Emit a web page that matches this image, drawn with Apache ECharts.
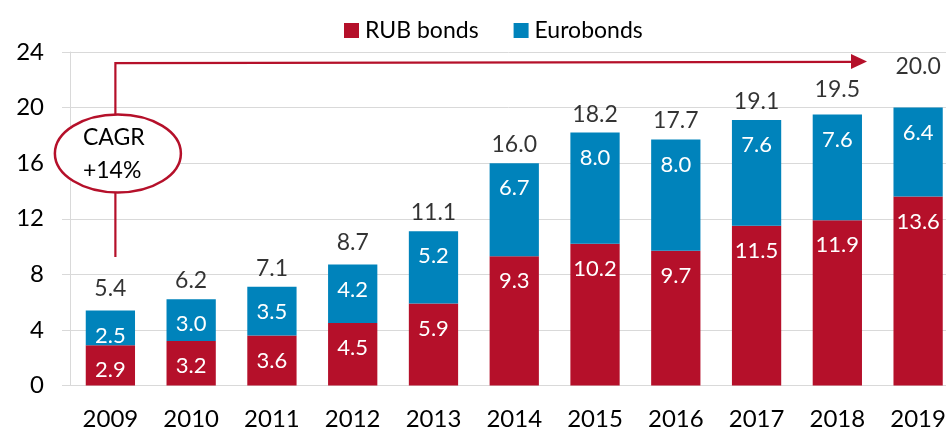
<!DOCTYPE html>
<html>
<head>
<meta charset="utf-8">
<script src="https://cdn.jsdelivr.net/npm/echarts@6/dist/echarts.min.js"></script>
<style>
  html, body { margin: 0; padding: 0; background: #fff; }
  #chart { width: 946px; height: 428px; }
</style>
</head>
<body>
<div id="chart"></div>
<script>
// Bond market volume by year, USD-equivalent (stacked: RUB bonds + Eurobonds)
const years = ['2009', '2010', '2011', '2012', '2013', '2014', '2015', '2016', '2017', '2018', '2019'];
const rubBonds = [2.9, 3.2, 3.6, 4.5, 5.9, 9.3, 10.2, 9.7, 11.5, 11.9, 13.6];
const euroBonds = [2.5, 3.0, 3.5, 4.2, 5.2, 6.7, 8.0, 8.0, 7.6, 7.6, 6.4];
const totals = [5.4, 6.2, 7.1, 8.7, 11.1, 16.0, 18.2, 17.7, 19.1, 19.5, 20.0];
const yTicks = [0, 4, 8, 12, 16, 20, 24];

// extra lift (px) for a few total labels
const totalLabelLift = { '2009': 3, '2012': 4, '2018': 6, '2019': 23 };

const RED = '#B5102A';
const BLUE = '#0083BB';
const FONT = 'Lato, "Open Sans", sans-serif';

const chart = echarts.init(document.getElementById('chart'), null, { renderer: 'canvas' });

const insideLabel = {
  show: true,
  position: 'insideTop',
  distance: 14,
  color: '#fff',
  fontFamily: FONT,
  fontSize: 22,
  formatter: p => p.value.toFixed(1)
};

chart.setOption({
  animation: false,
  backgroundColor: '#fff',
  textStyle: { fontFamily: FONT },
  legend: {
    left: 339,
    top: 14,
    itemWidth: 15,
    itemHeight: 15,
    itemGap: 35,
    icon: 'rect',
    textStyle: { fontFamily: FONT, fontSize: 23, color: '#000', padding: [0, 0, 0, 1] },
    data: ['RUB bonds', 'Eurobonds']
  },
  grid: {
    left: 70, right: -12.5, top: 52, bottom: 42.5,
    containLabel: false,
    outerBoundsMode: 'none'
  },
  xAxis: {
    type: 'category',
    data: years,
    axisLine: { lineStyle: { color: '#d9d9d9', width: 1 } },
    axisTick: { show: false },
    axisLabel: { color: '#000', fontFamily: FONT, fontSize: 24, margin: 22 }
  },
  yAxis: {
    type: 'value',
    min: yTicks[0],
    max: yTicks[yTicks.length - 1],
    interval: yTicks[1] - yTicks[0],
    axisLine: { show: true, lineStyle: { color: '#d9d9d9', width: 1 } },
    axisTick: { show: true, length: 8, lineStyle: { color: '#d9d9d9' } },
    splitLine: { lineStyle: { color: '#d9d9d9', width: 1 } },
    axisLabel: { color: '#000', fontFamily: FONT, fontSize: 24, margin: 26 }
  },
  series: [
    {
      name: 'RUB bonds',
      type: 'bar',
      stack: 'total',
      data: rubBonds,
      barCategoryGap: '39%',
      itemStyle: { color: RED },
      label: insideLabel
    },
    {
      name: 'Eurobonds',
      type: 'bar',
      stack: 'total',
      data: euroBonds,
      barCategoryGap: '39%',
      itemStyle: { color: BLUE },
      label: insideLabel
    },
    {
      name: 'Total',
      type: 'scatter',
      symbolSize: 0,
      silent: true,
      data: totals.map((v, i) => ({
        value: v,
        label: { distance: 7 + (totalLabelLift[years[i]] || 0) }
      })),
      label: {
        show: true,
        position: 'top',
        color: '#000',
        fontFamily: FONT,
        fontSize: 23,
        formatter: p => p.value.toFixed(1)
      }
    }
  ]
});

// CAGR annotation: arrow from 2009 running across the top, with a ringed note
const px = (cat, val) => chart.convertToPixel({ xAxisIndex: 0, yAxisIndex: 0 }, [cat, val]);
const start = px('2009', 9.25);
const corner = px('2009', 23.2);
const x0 = start[0] + 5;
const tipX = 867;
const tipY = corner[1] - 1.6;
const ellipseC = [x0 + 2.5, px('2009', 16.7)[1]];

chart.setOption({
  graphic: [
    {
      type: 'polyline',
      shape: { points: [[x0, start[1]], [x0, corner[1]], [tipX - 14, tipY + 0.3]] },
      style: { stroke: RED, lineWidth: 2.2, fill: null },
      z: 10
    },
    {
      type: 'polygon',
      shape: { points: [[tipX - 16, tipY - 7.5], [tipX, tipY], [tipX - 16, tipY + 7.5]] },
      style: { fill: RED },
      z: 10
    },
    {
      type: 'ellipse',
      shape: { cx: ellipseC[0], cy: ellipseC[1], rx: 63, ry: 39 },
      style: { fill: '#fff', stroke: RED, lineWidth: 2.5 },
      z: 11
    },
    {
      type: 'text',
      left: ellipseC[0] - 35,
      top: ellipseC[1] - 32,
      style: {
        text: 'CAGR\n+14%',
        fill: '#000',
        font: '23px ' + FONT,
        lineHeight: 33
      },
      z: 12
    }
  ]
});
</script>
</body>
</html>
